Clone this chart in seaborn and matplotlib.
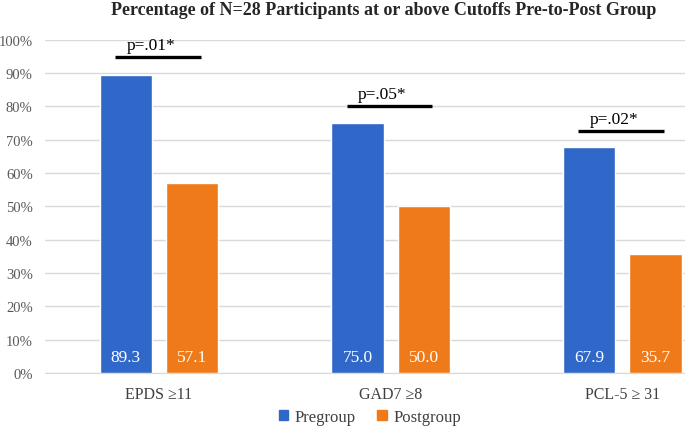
import pandas as pd
import matplotlib.pyplot as plt
import seaborn as sns
from matplotlib.patches import Patch

# data
measures = ['EPDS \u226511', 'GAD7 \u22658', 'PCL-5 \u2265 31']
pregroup = [89.3, 75.0, 67.9]
postgroup = [57.1, 50.0, 35.7]
p_values = ['p=.01*', 'p=.05*', 'p=.02*']
p_heights = [94.8, 80.1, 72.6]
groups = ['Pregroup', 'Postgroup']
colors = ['#2F68C8', '#EE7A1A']

df = pd.DataFrame({
    'measure': measures * 2,
    'group': [groups[0]] * 3 + [groups[1]] * 3,
    'percent': pregroup + postgroup,
})

sns.set_style('white')
plt.rcParams['font.family'] = ['Liberation Serif', 'DejaVu Serif']

fig = plt.figure(figsize=(6.85, 4.27), dpi=100)
ax = fig.add_axes([0.066, 0.124, 0.934, 0.781])

sns.barplot(data=df, x='measure', y='percent', hue='group', palette=colors,
            saturation=1, width=0.57, gap=0.21, ax=ax, legend=False, zorder=3)

# value labels at the bottom of each bar
for container in ax.containers:
    for bar in container:
        ax.text(bar.get_x() + bar.get_width() / 2, 4.8, f'{bar.get_height():.1f}',
                ha='center', va='center', color='white', fontsize=12.5, zorder=4)

# significance lines
for i, (txt, h) in enumerate(zip(p_values, p_heights)):
    ax.plot([i - 0.19, i + 0.18], [h, h], color='black', lw=2.4, zorder=4,
            solid_capstyle='butt')
    ax.text(i - 0.035, h + 1.3, txt, ha='center', va='bottom', fontsize=12.5, color='black')

ax.set_ylim(0, 100)
ax.set_xlim(-0.49, 2.27)
ax.set_yticks(range(0, 101, 10))
ax.set_yticklabels([f'{v}%' for v in range(0, 101, 10)], fontsize=10.5, color='#595959')
ax.tick_params(axis='x', labelsize=11.5, colors='#404040', length=0, pad=9)
ax.tick_params(axis='y', length=0, pad=9)
ax.yaxis.grid(True, color='#D9D9D9', lw=1, zorder=0)
ax.set_axisbelow(True)
for s in ['top', 'right', 'left']:
    ax.spines[s].set_visible(False)
ax.spines['bottom'].set_color('#D9D9D9')
ax.set_xlabel('')
ax.set_ylabel('')

fig.suptitle('Percentage of N=28 Participants at or above Cutoffs Pre-to-Post Group',
             x=0.56, y=0.995, fontsize=13, fontweight='bold', color='#262626')

handles = [Patch(color=c, label=g) for c, g in zip(colors, groups)]
fig.legend(handles=handles, loc='center', bbox_to_anchor=(0.54, 0.022), ncol=2,
           frameon=False, fontsize=12, handlelength=0.55, handleheight=0.55,
           handletextpad=0.4, columnspacing=1.3, labelcolor='#404040')

fig.savefig('out.png', dpi=100)
